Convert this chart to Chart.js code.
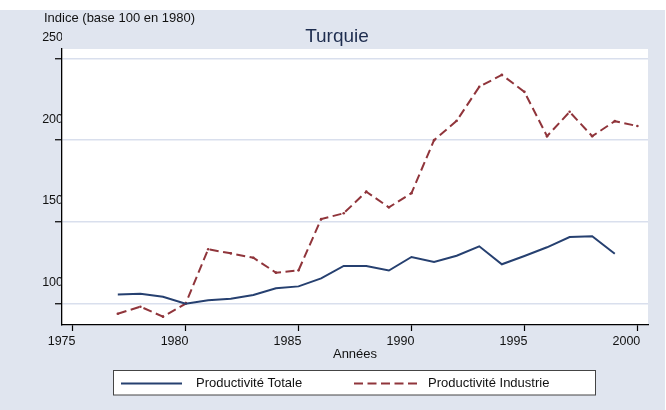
<!DOCTYPE html>
<html><head><meta charset="utf-8">
<script src="https://cdn.jsdelivr.net/npm/chart.js@4/dist/chart.umd.min.js"></script>
<style>html,body{margin:0;padding:0;background:#fff}#wrap{width:666px;height:410px;position:relative}</style>
</head><body><div id="wrap"><canvas id="c"></canvas></div>
<script>
// ---- data ----
const years = [1977,1978,1979,1980,1981,1982,1983,1984,1985,1986,1987,1988,1989,1990,1991,1992,1993,1994,1995,1996,1997,1998,1999,2000];
const productiviteTotale = [105.7,106.1,104.3,100,102.1,103.1,105.3,109.4,110.6,115.5,123.1,123.0,120.3,128.6,125.5,129.3,135.1,124.1,129.2,134.5,140.8,141.2,130.6,null];
const productiviteIndustrie = [93.9,98.2,92.1,100,133.3,130.8,128.1,119.0,120.4,151.7,155.3,168.5,158.9,167.6,200.0,211.8,232.6,239.9,229.5,202.4,217.3,202.4,211.6,208.6];
const xTicks = [1975,1980,1985,1990,1995,2000];
const yTicks = [100,150,200,250];
const seriesLabels = ['Productivité Totale','Productivité Industrie'];
const chartTitle = 'Turquie';
const yTitle = 'Indice (base 100 en 1980)';
const xTitle = 'Années';

// ---- styles ----
const BG = '#e0e5ef';
const BLUE = 'rgb(38,64,112)';
const RED = 'rgb(144,53,59)';
Chart.defaults.font.family = "'Liberation Sans', Arial, Helvetica, sans-serif";
Chart.defaults.color = '#111';

const decor = {
  id: 'decor',
  beforeDraw(chart) {
    const {ctx, chartArea: a, width, height} = chart;
    ctx.save();
    ctx.fillStyle = '#fff'; ctx.fillRect(0, 0, width, height);
    ctx.fillStyle = BG; ctx.fillRect(0, 10, width - 1, height - 10);
    ctx.fillStyle = '#fff'; ctx.fillRect(a.left, a.top, a.right - a.left, a.bottom - a.top);
    ctx.restore();
  },
  afterDraw(chart) {
    const {ctx} = chart;
    ctx.save();
    ctx.fillStyle = '#111';
    ctx.font = "13px 'Liberation Sans', Arial, sans-serif";
    ctx.textBaseline = 'middle';
    ctx.textAlign = 'left';
    ctx.fillText(yTitle, 44, 18.5);
    // legend box
    const lx = 113.5, ly = 370.5, lw = 482, lh = 24.5;
    ctx.fillStyle = '#fff'; ctx.fillRect(lx, ly, lw, lh);
    ctx.strokeStyle = '#444'; ctx.lineWidth = 1; ctx.strokeRect(lx, ly, lw, lh);
    const slots = [{x0: 121, x1: 182, tx: 196}, {x0: 354, x1: 418, tx: 428}];
    chart.data.datasets.forEach((ds, i) => {
      const s = slots[i];
      const cy = 383.5;
      ctx.strokeStyle = ds.borderColor; ctx.lineWidth = ds.borderWidth;
      ctx.setLineDash(ds.borderDash || []);
      ctx.beginPath(); ctx.moveTo(s.x0, cy); ctx.lineTo(s.x1, cy); ctx.stroke();
      ctx.setLineDash([]);
      ctx.fillStyle = '#111';
      ctx.fillText(ds.label, s.tx, cy);
    });
    ctx.restore();
  }
};

new Chart(document.getElementById('c'), {
  type: 'line',
  data: {
    datasets: [
      {label: seriesLabels[0], data: years.map((y, i) => ({x: y, y: productiviteTotale[i]})),
       borderColor: BLUE, backgroundColor: BLUE, borderWidth: 2, pointRadius: 0, tension: 0, fill: false},
      {label: seriesLabels[1], data: years.map((y, i) => ({x: y, y: productiviteIndustrie[i]})),
       borderColor: RED, backgroundColor: RED, borderWidth: 2, borderDash: [9, 4.5],
       pointRadius: 1.3, pointBorderWidth: 0, pointBackgroundColor: RED, tension: 0, fill: false}
    ]
  },
  options: {
    responsive: true, maintainAspectRatio: false, animation: false, events: [],
    layout: {padding: {left: 26, right: 18, top: 0, bottom: 0}},
    plugins: {
      legend: {display: false}, tooltip: {enabled: false},
      title: {display: true, text: chartTitle, color: '#1e2d4f', font: {size: 19, weight: 'normal'},
              padding: {top: 25, bottom: 1.2}}
    },
    scales: {
      x: {
        type: 'linear', min: 1974.53, max: 2000.47,
        afterBuildTicks: s => { s.ticks = xTicks.map(v => ({value: v})); },
        afterFit: s => { s.height = 85; },
        grid: {drawOnChartArea: false, tickLength: 6, tickColor: '#000', tickWidth: 1.2},
        border: {color: '#000', width: 1.3},
        ticks: {labelOffset: -11, padding: 3, color: '#111', font: {size: 12.5},
                autoSkip: false, maxRotation: 0, callback: v => String(v)},
        title: {display: true, text: xTitle, color: '#111', font: {size: 13}, padding: {top: 0, bottom: 48}}
      },
      y: {
        min: 87, max: 255.7,
        afterBuildTicks: s => { s.ticks = yTicks.map(v => ({value: v})); },
        afterFit: s => { s.width = 36; },
        grid: {color: '#d9dfed', lineWidth: 1.5, tickLength: 7, tickColor: '#000', tickWidth: 1.2},
        border: {color: '#000', width: 1.3},
        ticks: {labelOffset: -21, padding: -8, color: '#111', font: {size: 12.5}, callback: v => String(v)}
      }
    }
  },
  plugins: [decor]
});
</script></body></html>
